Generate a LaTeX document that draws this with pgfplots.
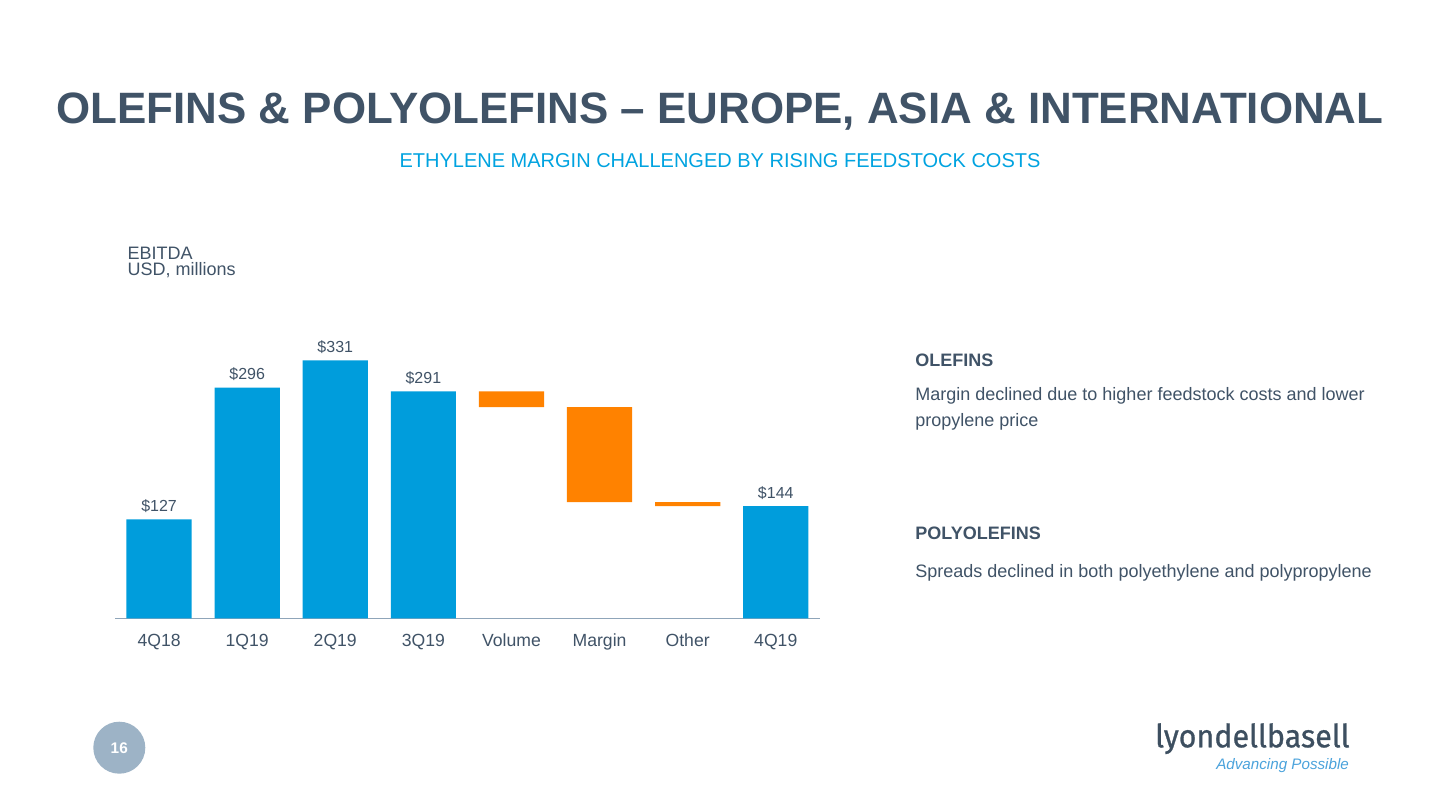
\documentclass[border=0pt]{standalone}
\usepackage{fontspec}
\setmainfont{Liberation Sans}
\newfontfamily\logofont[FakeBold=0.8]{Fira Sans}
\usepackage{pgfplots}
\pgfplotsset{compat=1.18}
\definecolor{titlecol}{RGB}{64,83,103}
\definecolor{txtcol}{RGB}{64,83,103}
\definecolor{subcol}{RGB}{0,163,224}
\definecolor{bluebar}{RGB}{0,157,220}
\definecolor{orangebar}{RGB}{255,130,0}
\definecolor{axiscol}{RGB}{143,165,185}
\definecolor{circcol}{RGB}{157,179,198}
\definecolor{logocol}{RGB}{61,79,96}
\definecolor{tagcol}{RGB}{75,163,220}
\pgfplotsset{
  wfgeom/.style={
    at={(57.5pt,95.85pt)}, anchor=south west,
    x=44.05pt, y=0.3898pt,
    xmin=-0.5, xmax=7.5, ymin=0, ymax=360,
    enlargelimits=false, clip=false,
  }
}
\begin{document}
\begin{tikzpicture}
\path[fill=white,use as bounding box] (0,0) rectangle (720pt,405pt);
% title and subtitle
\node[anchor=base,inner sep=0,text=titlecol,font=\fontsize{21.95}{26}\selectfont\bfseries] at (360pt,343pt) {OLEFINS \& POLYOLEFINS – EUROPE, ASIA \& INTERNATIONAL};
\node[anchor=base,inner sep=0,text=subcol,font=\fontsize{10}{12}\selectfont] at (360pt,321.35pt) {ETHYLENE MARGIN CHALLENGED BY RISING FEEDSTOCK COSTS};
% unit label
\node[anchor=base west,inner sep=0,text=txtcol,font=\fontsize{9}{11}\selectfont] at (63.6pt,275pt) {EBITDA};
\node[anchor=base west,inner sep=0,text=txtcol,font=\fontsize{9}{11}\selectfont] at (63.6pt,267pt) {USD, millions};
% right text
\node[anchor=base west,inner sep=0,text=txtcol,font=\fontsize{9}{11}\selectfont\bfseries] at (457.5pt,221.65pt) {OLEFINS};
\node[anchor=base west,inner sep=0,text=txtcol,font=\fontsize{9}{11}\selectfont] at (457.5pt,205pt) {Margin declined due to higher feedstock costs and lower};
\node[anchor=base west,inner sep=0,text=txtcol,font=\fontsize{9}{11}\selectfont] at (457.5pt,192pt) {propylene price};
\node[anchor=base west,inner sep=0,text=txtcol,font=\fontsize{9}{11}\selectfont\bfseries] at (457.5pt,135.35pt) {POLYOLEFINS};
\node[anchor=base west,inner sep=0,text=txtcol,font=\fontsize{9}{11}\selectfont] at (457.5pt,116.35pt) {Spreads declined in both polyethylene and polypropylene};
% page number
\fill[circcol] (59.65pt,31.15pt) circle (13pt);
\node[text=white,inner sep=0,font=\fontsize{7.7}{9}\selectfont\bfseries] at (59.65pt,31.15pt) {16};
% logo
\node[anchor=base east,inner sep=0,text=logocol] at (675pt,31.35pt) {\resizebox{97.2pt}{12pt}{\logofont lyondellbasell}};
\node[anchor=base east,inner sep=0,text=tagcol] at (674.65pt,20.35pt) {\resizebox{66.3pt}{!}{\itshape Advancing Possible}};
% chart
\begin{axis}[
  wfgeom,
  ybar stacked, bar width=32.6pt,
  axis x line=bottom, axis y line=none,
  axis line style={draw=axiscol, line width=0.6pt, -},
  xtick={0,...,7},
  xticklabels={4Q18,1Q19,2Q19,3Q19,Volume,Margin,Other,4Q19},
  major tick length=0pt,
  xticklabel style={font=\fontsize{8.8}{10}\selectfont, text=txtcol, anchor=base, yshift=-14.2pt},
]
\addplot[draw=none, fill=none] coordinates {(0,0) (1,0) (2,0) (3,0) (4,271) (5,149) (6,144) (7,0)};
\addplot[draw=none, fill=orangebar] coordinates {(0,0) (1,0) (2,0) (3,0) (4,20) (5,122) (6,5) (7,0)};
\addplot[draw=none, fill=bluebar] coordinates {(0,127) (1,296) (2,331) (3,291) (4,0) (5,0) (6,0) (7,144)};
\end{axis}
% value labels
\begin{axis}[wfgeom, hide axis]
\addplot[draw=none, mark=none, point meta=explicit symbolic, nodes near coords,
  nodes near coords style={anchor=base, yshift=3.8pt, font=\fontsize{8}{10}\selectfont, text=txtcol}]
  coordinates {(0,127)[\$127] (1,296)[\$296] (2,331)[\$331] (3,291)[\$291] (7,144)[\$144]};
\end{axis}
\end{tikzpicture}
\end{document}
